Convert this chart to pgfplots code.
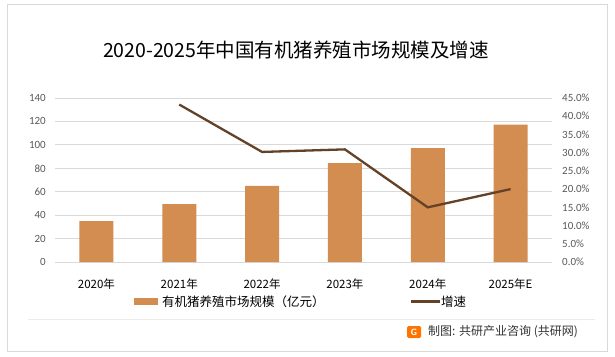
\documentclass[border=0pt]{standalone}
\usepackage{pgfplots}
\pgfplotsset{compat=1.18}
\usepackage{fontspec}
\setmainfont{Carlito}
\newfontfamily\cjk{Noto Sans CJK SC}
\definecolor{barc}{RGB}{211,141,80}
\definecolor{linec}{RGB}{99,66,40}
\definecolor{gridc}{RGB}{217,217,217}
\definecolor{tickc}{RGB}{89,89,89}
\begin{document}
\begin{tikzpicture}[x=1pt,y=1pt]
\path[use as bounding box,fill=white] (0,0) rectangle (615,356);
\draw[gridc,line width=1pt] (7,5) rectangle (607,351);
\draw[black!8,line width=0.8pt] (28,37) -- (595,37);
\node[font=\cjk\fontsize{19.5}{21}\selectfont] at (296,306) {2020-2025年中国有机猪养殖市场规模及增速};
\begin{axis}[
  at={(55pt,94pt)}, anchor=south west,
  width=497pt, height=164pt, scale only axis,
  xmin=-0.5, xmax=5.5, ymin=0, ymax=140,
  ytick={0,20,40,60,80,100,120,140},
  xtick={0,1,2,3,4,5},
  xticklabels={2020年,2021年,2022年,2023年,2024年,2025年E},
  xticklabel style={font=\cjk\fontsize{11.5}{12}\selectfont, anchor=center, yshift=-22pt},
  yticklabel style={font=\fontsize{11}{12}\selectfont, text=tickc, inner sep=0pt, anchor=east, xshift=-9pt},
  /pgf/number format/assume math mode=true,
  major tick length=0pt,
  axis x line*=bottom, axis y line*=left,
  x axis line style={draw=gridc, line width=0.8pt, -},
  y axis line style={draw=none},
  ymajorgrids, grid style={gridc, line width=0.8pt},
  axis on top=false,
]
\addplot[ybar, bar width=34pt, fill=barc, draw=none] coordinates {(0,35) (1,49.5) (2,65) (3,84.5) (4,97.3) (5,117.2)};
\end{axis}
\begin{axis}[
  at={(55pt,94pt)}, anchor=south west,
  width=497pt, height=164pt, scale only axis,
  xmin=-0.5, xmax=5.5, ymin=0, ymax=45,
  ytick={0,5,10,15,20,25,30,35,40,45},
  yticklabel={\pgfmathprintnumber[fixed,fixed zerofill,precision=1]{\tick}\%},
  yticklabel style={font=\fontsize{11}{12}\selectfont, text=tickc, inner sep=0pt, anchor=west, xshift=10pt},
  /pgf/number format/assume math mode=true,
  major tick length=0pt,
  axis x line=none, axis y line*=right,
  y axis line style={draw=none},
]
\addplot[linec, line width=2.3pt, no markers] coordinates {(1,43.2) (2,30.2) (3,30.9) (4,15.0) (5,20.0)};
\end{axis}
\fill[barc] (134,51.3) rectangle (158,57.7);
\node[anchor=west, inner sep=0pt, font=\cjk\fontsize{12.5}{13}\selectfont] at (162,54.5) {有机猪养殖市场规模（亿元）};
\draw[linec, line width=2.3pt] (411,54.5) -- (440,54.5);
\node[anchor=west, inner sep=0pt, font=\cjk\fontsize{12.5}{13}\selectfont] at (441,54.5) {增速};
\fill[orange!90!red, rounded corners=1.5pt] (407,18) rectangle (421,30);
\node[font=\sffamily\bfseries\fontsize{9}{9}\selectfont, text=white, inner sep=0pt] at (414,24) {G};
\node[anchor=west, inner sep=0pt, text=black!80, font=\cjk\fontsize{12}{13}\selectfont] at (428,24) {制图: 共研产业咨询 (共研网)};
\end{tikzpicture}
\end{document}
